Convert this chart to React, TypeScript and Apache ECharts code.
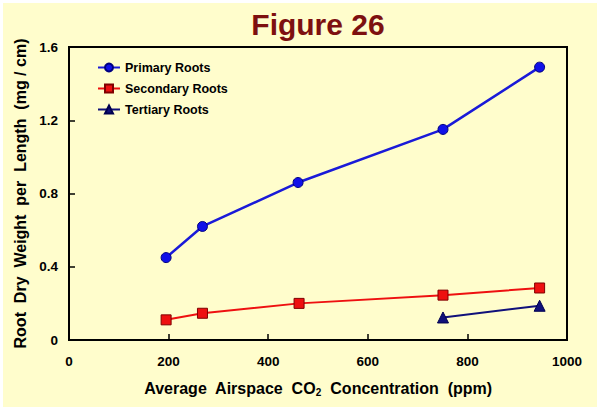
import React, { useEffect, useRef } from "react";
import * as echarts from "echarts";

const co2Primary = [195, 268, 460, 751, 945];
const primaryRoots = [0.45, 0.62, 0.86, 1.15, 1.49];
const co2Secondary = [195, 268, 462, 751, 945];
const secondaryRoots = [0.11, 0.146, 0.2, 0.245, 0.284];
const co2Tertiary = [751, 945];
const tertiaryRoots = [0.123, 0.187];
const seriesNames = ["Primary Roots", "Secondary Roots", "Tertiary Roots"];
const titleText = "Figure 26";

const pairs = (xs: number[], ys: number[]) => xs.map((x, i) => [x, ys[i]]);

export default function App() {
  const ref = useRef<HTMLDivElement>(null);
  useEffect(() => {
    document.body.style.margin = "0";
    const chart = echarts.init(ref.current!, null, { renderer: "svg" });
    const font = "Arial, 'Liberation Sans', sans-serif";
    chart.setOption({
      animation: false,
      backgroundColor: "#ffffff",
      graphic: [
        {
          type: "rect",
          z: -10,
          shape: { x: 3, y: 3, width: 594, height: 404 },
          style: { fill: "#fffdcc" },
          silent: true,
        },
        {
          type: "text",
          x: 318,
          y: 24.5,
          style: {
            text: titleText,
            textAlign: "center",
            textVerticalAlign: "middle",
            fill: "#7d1010",
            fontSize: 30,
            fontWeight: "bold",
            fontFamily: font,
          },
        },
      ],
      legend: {
        orient: "vertical",
        left: 97,
        top: 61,
        padding: 0,
        itemWidth: 22,
        itemHeight: 10,
        itemGap: 8,
        data: seriesNames,
        textStyle: { fontSize: 12.5, fontWeight: "bold", fontFamily: font, color: "#000" },
      },
      grid: {
        left: 69,
        right: 33,
        top: 47,
        bottom: 70,
        show: true,
        backgroundColor: "#fffdcc",
        borderColor: "#000",
        borderWidth: 2,
      },
      xAxis: {
        type: "value",
        min: 0,
        max: 1000,
        interval: 200,
        name: "Average  Airspace  CO{sub|2}  Concentration  (ppm)",
        nameLocation: "middle",
        nameGap: 39,
        nameTextStyle: {
          fontSize: 16,
          fontWeight: "bold",
          fontFamily: font,
          color: "#000",
          rich: {
            sub: { fontSize: 10, fontWeight: "bold", fontFamily: font, verticalAlign: "bottom", padding: [8, 0, 0, 0] },
          },
        },
        axisLine: { lineStyle: { color: "#000", width: 2 } },
        axisTick: { inside: true, length: 6, lineStyle: { color: "#000", width: 1.5 } },
        axisLabel: {
          margin: 14,
          fontSize: 13.5,
          fontWeight: "bold",
          fontFamily: font,
          color: "#000",
          formatter: (v: number) => String(v),
        },
        splitLine: { show: false },
      },
      yAxis: {
        type: "value",
        min: 0,
        max: 1.6,
        interval: 0.4,
        name: "Root  Dry  Weight  per  Length  (mg / cm)",
        nameLocation: "middle",
        nameGap: 39,
        nameTextStyle: { fontSize: 16, fontWeight: "bold", fontFamily: font, color: "#000" },
        axisLine: { lineStyle: { color: "#000", width: 2 } },
        axisTick: { inside: true, length: 6, lineStyle: { color: "#000", width: 1.5 } },
        axisLabel: {
          margin: 11,
          fontSize: 13.5,
          fontWeight: "bold",
          fontFamily: font,
          color: "#000",
          formatter: (v: number) => (v === 0 ? "0" : v.toFixed(1)),
        },
        splitLine: { show: false },
      },
      series: [
        {
          name: seriesNames[0],
          type: "line",
          data: pairs(co2Primary, primaryRoots),
          symbol: "circle",
          symbolSize: 10,
          lineStyle: { color: "#1a1ad8", width: 2.5 },
          itemStyle: { color: "#1010e8", borderColor: "#000080", borderWidth: 1 },
        },
        {
          name: seriesNames[1],
          type: "line",
          data: pairs(co2Secondary, secondaryRoots),
          symbol: "rect",
          symbolSize: 10,
          lineStyle: { color: "#ee1010", width: 2 },
          itemStyle: { color: "#ee1010", borderColor: "#800000", borderWidth: 1 },
        },
        {
          name: seriesNames[2],
          type: "line",
          data: pairs(co2Tertiary, tertiaryRoots),
          symbol: "triangle",
          symbolSize: 11,
          lineStyle: { color: "#10107a", width: 2 },
          itemStyle: { color: "#10107a", borderColor: "#000050", borderWidth: 1 },
        },
      ],
    });
    return () => chart.dispose();
  }, []);
  return <div ref={ref} style={{ width: 600, height: 410 }} />;
}
